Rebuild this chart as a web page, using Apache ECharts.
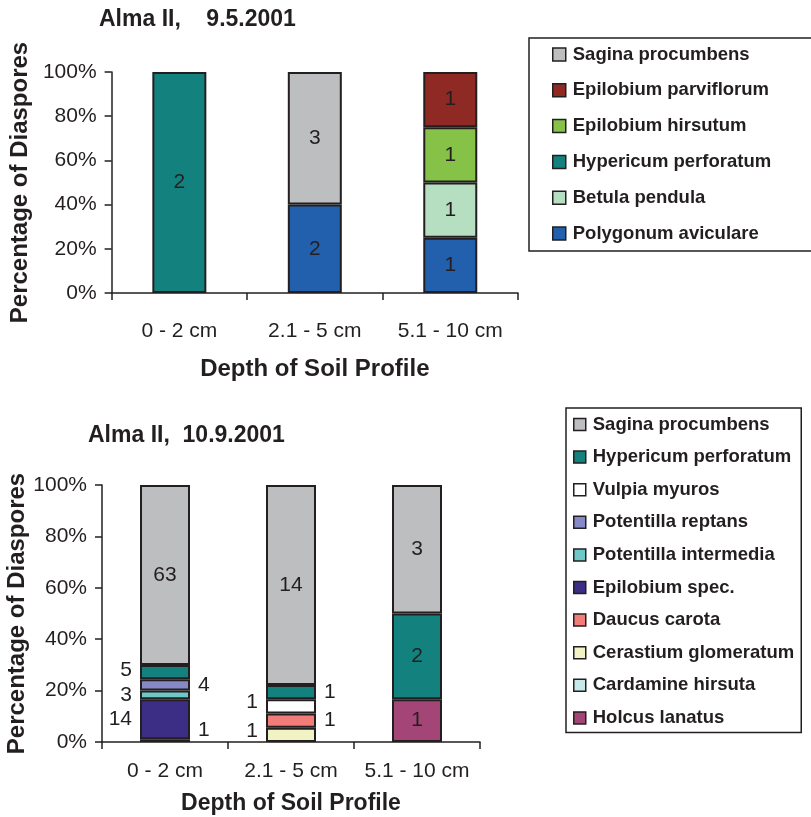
<!DOCTYPE html>
<html>
<head>
<meta charset="utf-8">
<script src="https://cdn.jsdelivr.net/npm/echarts@6/dist/echarts.min.js"></script>
<style>
  html, body { margin: 0; padding: 0; background: #fff; }
  #chart { width: 811px; height: 817px; }
</style>
</head>
<body>
<div id="chart"></div>
<script>
const depths = ['0 - 2 cm', '2.1 - 5 cm', '5.1 - 10 cm'];

// Alma II, 9.5.2001 - species from bottom of stack to top, counts per depth
const maySpecies = ['Polygonum aviculare', 'Betula pendula', 'Hypericum perforatum',
  'Epilobium hirsutum', 'Epilobium parviflorum', 'Sagina procumbens'];
const mayCounts = [
  [0, 2, 1],
  [0, 0, 1],
  [2, 0, 0],
  [0, 0, 1],
  [0, 0, 1],
  [0, 3, 0]
];

// Alma II, 10.9.2001
const sepSpecies = ['Holcus lanatus', 'Cardamine hirsuta', 'Cerastium glomeratum',
  'Daucus carota', 'Epilobium spec.', 'Potentilla intermedia', 'Potentilla reptans',
  'Vulpia myuros', 'Hypericum perforatum', 'Sagina procumbens'];
const sepCounts = [
  [0, 0, 1],
  [1, 0, 0],
  [0, 1, 0],
  [0, 1, 0],
  [14, 0, 0],
  [3, 0, 0],
  [4, 0, 0],
  [0, 1, 0],
  [5, 1, 2],
  [63, 14, 3]
];

const colors = {
  'Sagina procumbens': '#bcbec0',
  'Epilobium parviflorum': '#8e2a23',
  'Epilobium hirsutum': '#85c247',
  'Hypericum perforatum': '#13827f',
  'Betula pendula': '#b5dfc0',
  'Polygonum aviculare': '#2260ad',
  'Vulpia myuros': '#ffffff',
  'Potentilla reptans': '#8589c7',
  'Potentilla intermedia': '#6fc8c8',
  'Epilobium spec.': '#3c2d85',
  'Daucus carota': '#f27c78',
  'Cerastium glomeratum': '#f2f3c4',
  'Cardamine hirsuta': '#c6e9e9',
  'Holcus lanatus': '#a34677'
};

// small segments in the lower chart get their label beside the bar
const sideLabels = {
  'Cardamine hirsuta|0': ['right', -10],
  'Epilobium spec.|0': ['left', 0],
  'Potentilla intermedia|0': ['left', 0],
  'Potentilla reptans|0': ['right', 0],
  'Hypericum perforatum|0': ['left', -2],
  'Cerastium glomeratum|1': ['left', -4],
  'Daucus carota|1': ['right', 0],
  'Vulpia myuros|1': ['left', -4],
  'Hypericum perforatum|1': ['right', 0]
};

const ink = '#231f20';
const font = '"Liberation Sans", Arial, sans-serif';

function buildSeries(species, counts, idx, barWidth) {
  const totals = depths.map((d, j) => counts.reduce((s, row) => s + row[j], 0));
  return species.map((name, k) => ({
    name: name,
    type: 'bar',
    stack: 'st' + idx,
    xAxisIndex: idx,
    yAxisIndex: idx,
    barWidth: barWidth,
    itemStyle: { color: colors[name], borderColor: ink, borderWidth: 2 },
    label: {
      show: true,
      position: 'inside',
      formatter: p => p.data.count,
      fontSize: 21,
      fontFamily: font,
      color: ink
    },
    data: counts[k].map((c, j) => {
      if (!c) return '-';
      const item = { value: c / totals[j] * 100, count: c };
      const side = idx === 1 ? sideLabels[name + '|' + j] : null;
      if (side) item.label = { position: side[0], distance: 8, offset: [0, side[1]] };
      return item;
    })
  }));
}

function xAxis(idx, margin, gap) {
  return {
    type: 'category',
    gridIndex: idx,
    data: depths,
    name: 'Depth of Soil Profile',
    nameLocation: 'middle',
    nameGap: gap,
    nameTextStyle: { fontSize: idx ? 23 : 24, fontWeight: 'bold', color: ink, fontFamily: font },
    axisLine: { lineStyle: { color: ink, width: 1.5 } },
    axisTick: { show: true, length: 7, lineStyle: { color: ink, width: 1.5 } },
    axisLabel: { fontSize: 21, color: ink, margin: margin, interval: 0, fontFamily: font }
  };
}

function yAxis(idx, gap) {
  return {
    type: 'value',
    gridIndex: idx,
    min: 0,
    max: 100,
    interval: 20,
    name: 'Percentage of Diaspores',
    nameLocation: 'middle',
    nameRotate: 90,
    nameGap: gap,
    nameTextStyle: { fontSize: 24, fontWeight: 'bold', color: ink, fontFamily: font },
    splitLine: { show: false },
    axisLine: { show: true, lineStyle: { color: ink, width: 1.5 } },
    axisTick: { show: true, length: 7, lineStyle: { color: ink, width: 1.5 } },
    axisLabel: { formatter: '{value}%', fontSize: 21, color: ink, margin: 15, fontFamily: font }
  };
}

function legend(names, left, top, padding, gap, size) {
  return {
    orient: 'vertical',
    left: left,
    top: top,
    padding: padding,
    itemGap: gap,
    itemWidth: size,
    itemHeight: size,
    icon: 'rect',
    borderColor: ink,
    borderWidth: 1.5,
    itemStyle: { borderColor: ink, borderWidth: 1.5 },
    textStyle: { fontSize: 18.5, fontWeight: 'bold', color: ink, fontFamily: font, padding: [0, 0, 0, 2] },
    data: names.slice().reverse()
  };
}

const chart = echarts.init(document.getElementById('chart'));
chart.setOption({
  animation: false,
  title: [
    { text: 'Alma II,    9.5.2001', left: 94, top: 3,
      textStyle: { fontSize: 23, fontWeight: 'bold', color: ink, fontFamily: font } },
    { text: 'Alma II,  10.9.2001', left: 83, top: 419,
      textStyle: { fontSize: 23, fontWeight: 'bold', color: ink, fontFamily: font } }
  ],
  legend: [
    legend(maySpecies, 529, 38, [7, 44, 8, 23], 16.8, 13),
    legend(sepSpecies, 566, 408, [7, 7, 5, 7], 13.6, 12)
  ],
  grid: [
    { left: 108, top: 72, width: 410, height: 221 },
    { left: 102, top: 485, width: 378, height: 257 }
  ],
  xAxis: [xAxis(0, 28, 64), xAxis(1, 19, 50)],
  yAxis: [yAxis(0, 79), yAxis(1, 73)],
  series: buildSeries(maySpecies, mayCounts, 0, 54)
    .concat(buildSeries(sepSpecies, sepCounts, 1, 50))
});
</script>
</body>
</html>
